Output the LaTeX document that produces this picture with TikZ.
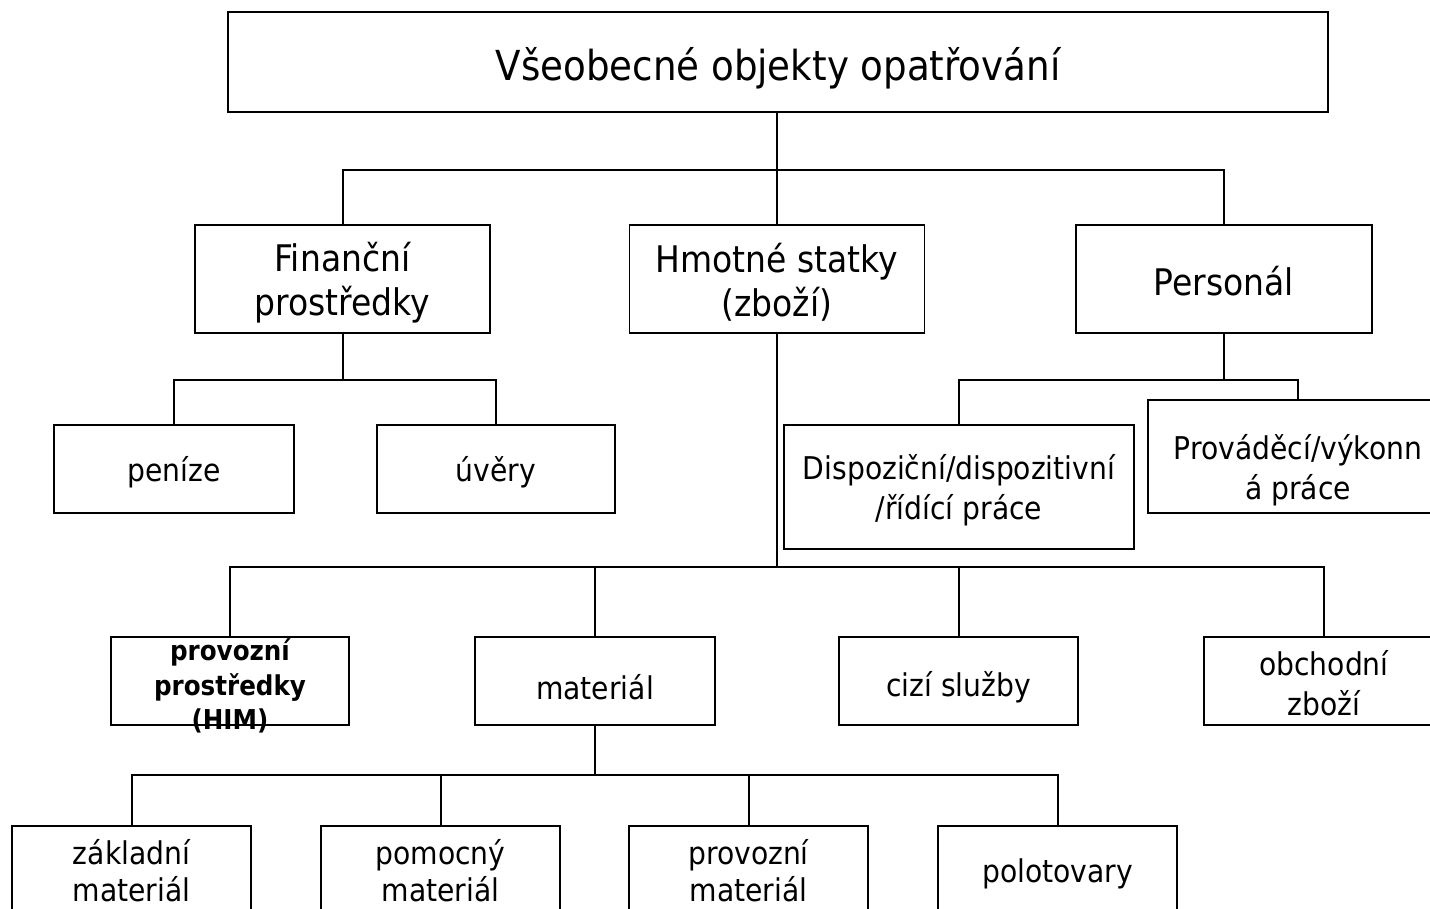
\documentclass[tikz,border=0pt]{standalone}
\usepackage{fontspec}
\setmainfont{DejaVu Sans Condensed}
\begin{document}
\begin{tikzpicture}[x=0.75pt,y=-0.75pt,
  box/.style 2 args={draw, line width=1.4pt, minimum width=#1*0.75pt,
    minimum height=#2*0.75pt, inner sep=0pt},
  txt/.style={align=center, inner sep=0pt, yshift=-2.5pt},
  conn/.style={line width=1.5pt},
  lvA/.style={txt, font=\fontsize{31}{36}\selectfont},
  lvB/.style={txt, font=\fontsize{27.5}{33}\selectfont},
  lvC/.style={txt, font=\fontsize{23.5}{30}\selectfont},
  lvE/.style={txt, font=\fontsize{23.5}{28}\selectfont},
  lvD/.style={txt, font=\fontsize{20.5}{26}\selectfont\bfseries},
]
\useasboundingbox (0,0) rectangle (1430,909);
\clip (0,0) rectangle (1430,909);
\fill[white] (0,0) rectangle (1430,909);

% root
\node[box={1100}{100}, label={[lvA, yshift=-2pt]center:Všeobecné objekty opatřování}] (root) at (778,62) {};

% second level
\node[box={295}{108}, label={[lvB]center:Finanční\\prostředky}] (fin) at (342.5,279) {};
\node[box={295}{108}, label={[lvB]center:Hmotné statky\\(zboží)}] (hm) at (777,279) {};
\node[box={296}{108}, label={[lvB, yshift=1pt]center:Personál}] (pers) at (1224,279) {};

% financial means
\node[box={240}{88}, label={[lvC]center:peníze}] (pen) at (174,469) {};
\node[box={238}{88}, label={[lvC]center:úvěry}] (uv) at (496,469) {};

% staff
\node[box={350}{124}, label={[lvC]center:Dispoziční/dispozitivní\\/řídící práce}] (disp) at (959,487) {};
\node[box={300}{113}, label={[lvC, yshift=-8pt]center:Prováděcí/výkonn\\á práce}] (prov) at (1298,456.5) {};

% goods
\node[box={238}{88}, label={[lvD, yshift=-1.25pt]center:provozní\\prostředky\\(HIM)}] (pp) at (230,681) {};
\node[box={240}{88}, label={[lvC, yshift=-2pt]center:materiál}] (mat) at (595,681) {};
\node[box={239}{88}, label={[lvC, yshift=-2pt]center:cizí služby}] (cizi) at (958.5,681) {};
\node[box={240}{88}, label={[lvC, yshift=1pt]center:obchodní\\zboží}] (obch) at (1324,681) {};

% material
\node[box={239}{90}, label={[lvE, yshift=2.5pt]center:základní\\materiál}] (zakl) at (131.5,871) {};
\node[box={239}{90}, label={[lvE, yshift=2.5pt]center:pomocný\\materiál}] (pom) at (440.5,871) {};
\node[box={239}{90}, label={[lvE, yshift=2.5pt]center:provozní\\materiál}] (prm) at (748.5,871) {};
\node[box={239}{90}, label={[lvE, yshift=0pt]center:polotovary}] (pol) at (1057.5,871) {};

% junctions
\coordinate (j1) at (777,170);
\coordinate (j2) at (342.5,380);
\coordinate (j3) at (1224,380);
\coordinate (j4) at (777,567);
\coordinate (j5) at (595,775);

\draw[conn] (root.south -| j1) -- (j1);
\draw[conn] (fin.north) |- (j1) -| (pers.north);
\draw[conn] (j1) -- (hm.north);

\draw[conn] (fin.south) -- (j2);
\draw[conn] (pen.north) |- (j2) -| (uv.north);

\draw[conn] (pers.south) -- (j3);
\draw[conn] (disp.north) |- (j3) -| (prov.north);

\draw[conn] (hm.south) -- (j4);
\draw[conn] (pp.north) |- (j4) -| (obch.north);
\draw[conn] (mat.north) -- (mat.north |- j4);
\draw[conn] (cizi.north) -- (cizi.north |- j4);

\draw[conn] (mat.south) -- (j5);
\draw[conn] (zakl.north) |- (j5) -| (pol.north);
\draw[conn] (pom.north) -- (pom.north |- j5);
\draw[conn] (prm.north) -- (prm.north |- j5);
\end{tikzpicture}
\end{document}
